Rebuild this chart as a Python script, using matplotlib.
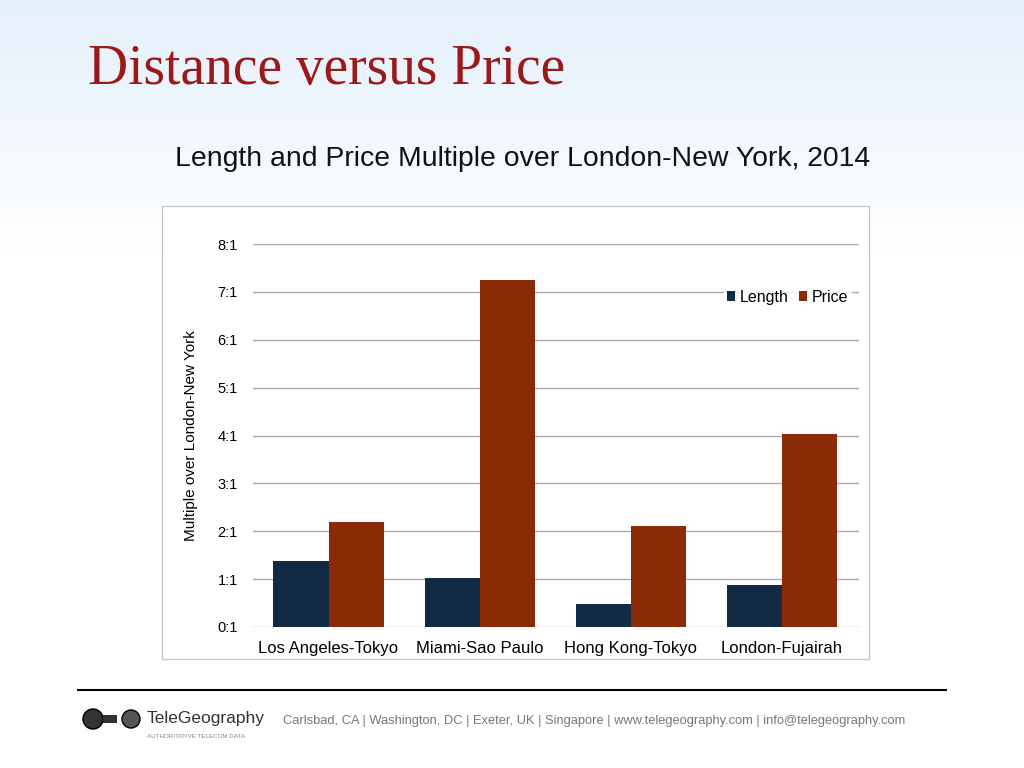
import matplotlib
matplotlib.use("Agg")
import matplotlib.pyplot as plt
import numpy as np
from matplotlib.patches import Rectangle, Ellipse
from matplotlib.colors import LinearSegmentedColormap

routes = ["Los Angeles-Tokyo", "Miami-Sao Paulo", "Hong Kong-Tokyo", "London-Fujairah"]
length = [1.38, 1.02, 0.48, 0.88]
price = [2.19, 7.25, 2.11, 4.03]
yticks = [0, 1, 2, 3, 4, 5, 6, 7, 8]
ylabels = [f"{v}:1" for v in yticks]

fig = plt.figure(figsize=(10.24, 7.68), dpi=100)
bg = fig.add_axes([0, 0, 1, 1], zorder=-10)
grad = np.linspace(0, 1, 256).reshape(-1, 1)
cm = LinearSegmentedColormap.from_list("g", ["#ffffff", "#ffffff", "#ffffff", "#e4f0fb"])
bg.imshow(grad, aspect="auto", cmap=cm, extent=[0, 1, 0, 1], origin="lower")
bg.add_patch(Rectangle((162/1024, 1-659/768), (869-162)/1024, (659-206)/768,
                       facecolor="white", edgecolor="#c8c8c8", lw=1))
bg.set_xlim(0, 1); bg.set_ylim(0, 1)
bg.set_axis_off()

fig.text(88/1024, 1-70/768, "Distance versus Price", family="Liberation Serif",
         fontsize=40, color="#9a1a1a", va="center", ha="left")
fig.text(175/1024, 1-159/768, "Length and Price Multiple over London-New York, 2014",
         family="Liberation Sans", fontsize=20.4, color="#111111", va="center", ha="left")

ax = fig.add_axes([253/1024, 1-627/768, 606/1024, 383/768])
ax.set_facecolor("none")
x = np.arange(len(routes))
w = 0.365
ax.bar(x - w/2, length, w, color="#132a45", label="Length", zorder=3)
ax.bar(x + w/2, price, w, color="#8a2a06", label="Price", zorder=3)
ax.set_xlim(-0.5, 3.51)
ax.set_ylim(0, 8)
ax.set_yticks(yticks)
ax.set_yticklabels(ylabels, family="Liberation Sans", fontsize=10.5)
ax.set_xticks(x)
ax.set_xticklabels(routes, family="Liberation Sans", fontsize=12)
ax.grid(axis="y", color="#aaaaaa", lw=1, zorder=0)
ax.tick_params(length=0, pad=11)
ax.tick_params(axis="x", pad=10)
for s in ax.spines.values():
    s.set_visible(False)
ax.set_ylabel("Multiple over London-New York", family="Liberation Sans", fontsize=11, labelpad=14)
leg = ax.legend(loc="upper right", bbox_to_anchor=(1.0, 0.91), ncol=2, frameon=True,
                prop={"family": "Liberation Sans", "size": 11.5}, handlelength=0.5,
                handleheight=0.5, columnspacing=0.6, handletextpad=0.3, borderpad=0.2)
leg.get_frame().set_facecolor("white"); leg.get_frame().set_edgecolor("white")

fig.add_artist(plt.Line2D([78/1024, 946/1024], [1-690/768]*2, color="black", lw=1.5))
fig.text(283/1024, 1-721/768,
         "Carlsbad, CA | Washington, DC | Exeter, UK | Singapore | www.telegeography.com | info@telegeography.com",
         family="Liberation Sans", fontsize=9.3, color="#777777", va="center")
bg.add_patch(Ellipse((93/1024, 1-719/768), 20/1024, 20/768, facecolor="#333333", edgecolor="black"))
bg.add_patch(Rectangle((103/1024, 1-723/768), 14/1024, 8/768, facecolor="#333333"))
bg.add_patch(Ellipse((131/1024, 1-719/768), 18/1024, 18/768, facecolor="#555555", edgecolor="black"))
fig.text(147/1024, 1-719/768, "TeleGeography", family="Liberation Sans", fontsize=12.5,
         color="#333333", va="center")
fig.text(147/1024, 1-736/768, "AUTHORITATIVE TELECOM DATA", family="Liberation Sans",
         fontsize=4.5, color="#888888", va="center")

fig.savefig("out.png", dpi=100)
